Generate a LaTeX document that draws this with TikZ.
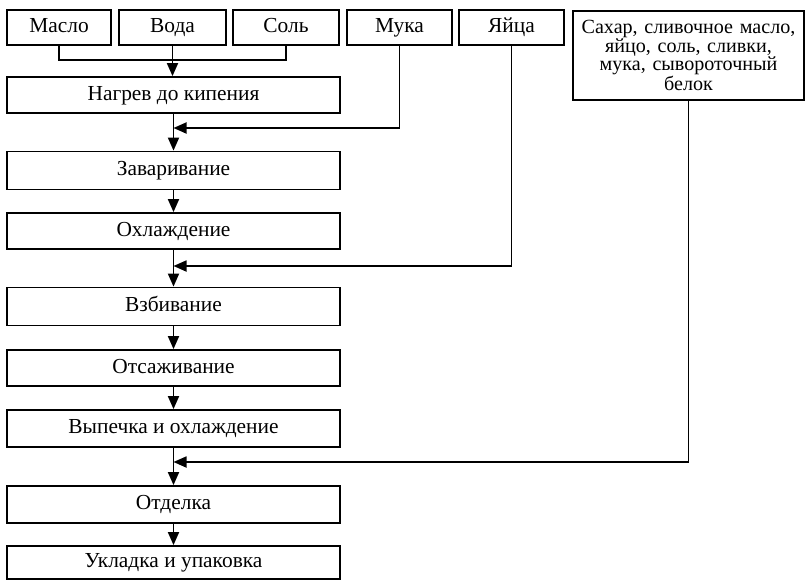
\documentclass[tikz,border=0pt]{standalone}
\usepackage{fontspec}
\setmainfont{Liberation Serif}
\usetikzlibrary{arrows.meta}
\begin{document}
\begin{tikzpicture}[x=1pt,y=-1pt,
  box/.style={draw,line width=1.8pt,rectangle,inner sep=0pt,font=\fontsize{21.4}{18}\selectfont},
  one/.style={text height=15pt,text depth=4.6pt},
  proc/.style={box,one,minimum width=333pt,minimum height=36pt},
  top/.style={box,one,minimum height=35pt},
  ln/.style={line width=1.8pt},
  arr/.style={line width=1.8pt,-{Triangle[length=13pt,width=11pt]}}]
\useasboundingbox (0,0) rectangle (805,581);
% top ingredient boxes
\node[top,minimum width=104pt] (maslo) at (59,27.5) {Масло};
\node[top,minimum width=107pt] (voda) at (172.5,27.5) {Вода};
\node[top,minimum width=106pt] (sol) at (286,27.5) {Соль};
\node[top,minimum width=105pt] (muka) at (399.5,27.5) {Мука};
\node[top,minimum width=105pt] (yaica) at (511.5,27.5) {Яйца};
\node[box,font=\fontsize{20.1}{18.3}\selectfont,minimum width=231pt,minimum height=89pt,text width=231pt,align=center,anchor=north] (mix) at (688.5,10) {Сахар, сливочное масло,\\ яйцо, соль, сливки,\\ мука, сывороточный\\ белок};
% process boxes
\node[proc] (nagrev) at (173.5,95) {Нагрев до кипения};
\node[proc,minimum height=38pt] (zavar) at (173.5,170.5) {Заваривание};
\node[proc] (ohl) at (173.5,231) {Охлаждение};
\node[proc,minimum height=38pt] (vzb) at (173.5,306.5) {Взбивание};
\node[proc] (ots) at (173.5,368) {Отсаживание};
\node[proc,minimum height=37pt] (vyp) at (173.5,428.5) {Выпечка и охлаждение};
\node[proc,minimum height=37pt] (otd) at (173.5,504.5) {Отделка};
\node[proc,minimum height=33pt] (ukl) at (173.5,562.5) {Укладка и упаковка};
% junction coordinates
\coordinate (j1) at (172.5,60);
\coordinate (jm) at (173.5,128);
\coordinate (jy) at (173.5,266);
\coordinate (jb) at (173.5,462);
% connectors
\draw[ln] (maslo.south) |- (j1);
\draw[ln] (sol.south) |- (j1);
\draw[arr] (voda.south) -- (voda.south |- nagrev.north);
\draw[arr] (nagrev.south) -- (zavar.north);
\draw[arr] (muka.south) |- (jm);
\draw[arr] (zavar.south) -- (ohl.north);
\draw[arr] (ohl.south) -- (vzb.north);
\draw[arr] (yaica.south) |- (jy);
\draw[arr] (vzb.south) -- (ots.north);
\draw[arr] (ots.south) -- (vyp.north);
\draw[arr] (vyp.south) -- (otd.north);
\draw[arr] (mix.south) |- (jb);
\draw[arr] (otd.south) -- (ukl.north);
\end{tikzpicture}
\end{document}
